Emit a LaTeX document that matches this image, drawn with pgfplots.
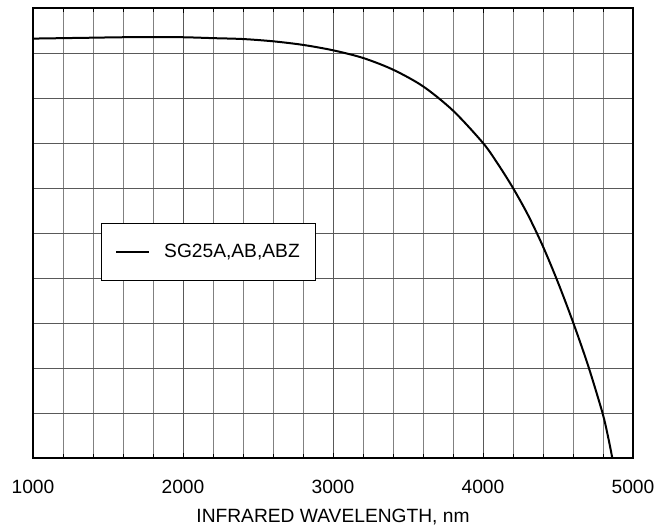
\documentclass[border=0pt]{standalone}
\usepackage{fontspec}
\setmainfont{Liberation Sans}
\usepackage{pgfplots}
\pgfplotsset{compat=1.18}
\begin{document}
\begin{tikzpicture}
\useasboundingbox (-33pt,-71pt) rectangle (634pt,458pt);
\begin{axis}[
  at={(0pt,0pt)}, anchor=south west,
  scale only axis, width=600pt, height=450pt,
  xmin=1000, xmax=5000, ymin=0, ymax=100,
  xtick={1000,2000,...,5000},
  minor xtick={1200,1400,...,4800},
  ytick={0,10,...,100},
  yticklabels={},
  grid=both,
  major grid style={black!65, line width=0.6pt},
  minor grid style={black!50, line width=0.5pt},
  axis line style={line width=1.6pt},
  x tick style={black, line width=0.8pt},
  major tick length=5pt, minor tick length=4pt,
  tick align=inside,
  xtick pos=both,
  y tick style={draw=none},
  /pgf/number format/assume math mode=true,
  /pgf/number format/set thousands separator={},
  xticklabel style={font=\fontsize{19.2}{23}\selectfont, yshift=-19pt},
  xlabel={INFRARED WAVELENGTH, nm},
  xlabel style={font=\fontsize{19.2}{23}\selectfont, at={(axis description cs:0.5,0)}, anchor=center, yshift=-59pt},
  legend style={at={(0.113,0.522)}, anchor=north west, draw=black, line width=0.8pt,
    font=\fontsize{19.2}{23}\selectfont, inner xsep=14pt, inner ysep=19pt,
    column sep=12pt},
  legend image code/.code={\draw[line width=2pt] (0pt,0pt) -- (33pt,0pt);},
]
\addplot[black, line width=2pt, smooth] coordinates {
(1000,93.2) (1200,93.3) (1400,93.4) (1600,93.5) (1800,93.5) (2000,93.5)
(2200,93.3) (2400,93.1) (2600,92.6) (2800,91.8) (3000,90.6) (3200,88.9)
(3400,86.3) (3600,82.6) (3800,77.2) (4000,70.0) (4100,65.3) (4200,60.0)
(4300,54.0) (4400,47.0) (4500,39.0) (4600,30.2) (4700,20.6) (4795,10.2)
(4830,5.3) (4862,0)
};
\addlegendentry{SG25A,AB,ABZ}
\end{axis}
\end{tikzpicture}
\end{document}
